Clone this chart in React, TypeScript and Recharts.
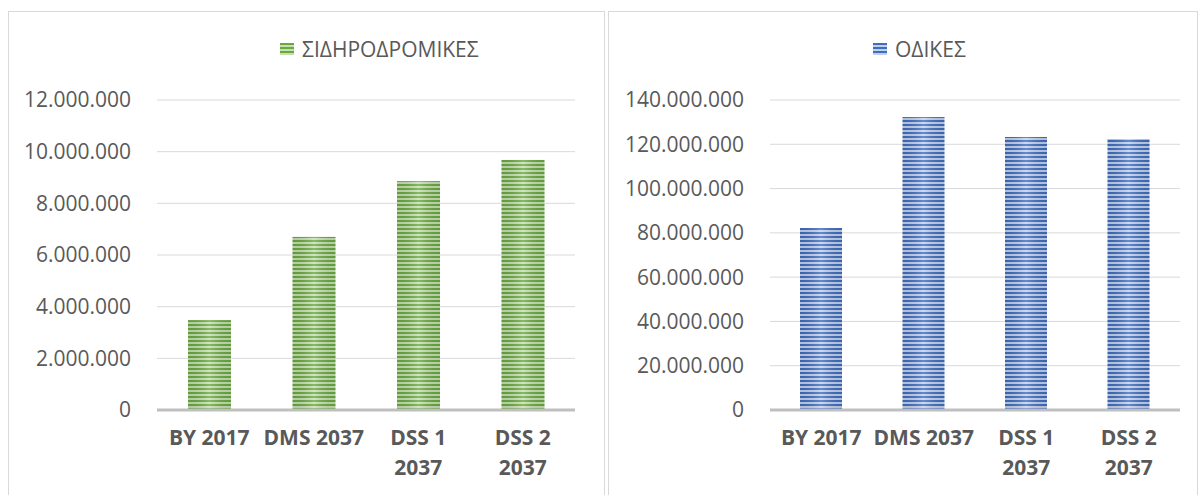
import { BarChart, Bar, XAxis, YAxis, CartesianGrid, Legend } from 'recharts';

const categories = ['BY 2017', 'DMS 2037', 'DSS 1 2037', 'DSS 2 2037'];
const railValues = [3480000, 6700000, 8860000, 9680000];
const roadValues = [82200000, 132300000, 123300000, 122400000];
const railTicks = [0, 2000000, 4000000, 6000000, 8000000, 10000000, 12000000];
const roadTicks = [0, 20000000, 40000000, 60000000, 80000000, 100000000, 120000000, 140000000];

const railData = categories.map((name, i) => ({ name, value: railValues[i] }));
const roadData = categories.map((name, i) => ({ name, value: roadValues[i] }));

const FONT = '"Open Sans", sans-serif';
const TEXT = '#595959';

const fmt = (v: number) => String(v).replace(/\B(?=(\d{3})+(?!\d))/g, '.');

function CatTick(props: any) {
    const { x, y, payload } = props;
    const label: string = payload.value;
    let lines = [label];
    if (label.length > 8) {
        const cut = label.lastIndexOf(' ');
        lines = [label.slice(0, cut), label.slice(cut + 1)];
    }
    return (
        <g transform={`translate(${x},${y})`}>
            {lines.map((l, i) => (
                <text key={i} x={0} y={i * 30} dy={27} textAnchor="middle" fill={TEXT}
                    fontSize={21} fontWeight={700} fontFamily={FONT}>{l}</text>
            ))}
        </g>
    );
}

function StripedBar(props: any) {
    const { x, y, width, height, pid } = props;
    if (!height || height <= 0) return null;
    return (
        <g>
            <rect x={x} y={y} width={width} height={height} fill={`url(#${pid})`} />
            <rect x={x} y={y} width={width} height={height} fill="url(#shine)" />
        </g>
    );
}

function Defs() {
    return (
        <defs>
            <pattern id="greenStripes" patternUnits="userSpaceOnUse" width={8} height={4}>
                <rect x={0} y={0} width={8} height={4} fill="#c4dfb0" />
                <rect x={0} y={0} width={8} height={2} fill="#6aa840" />
            </pattern>
            <pattern id="blueStripes" patternUnits="userSpaceOnUse" width={8} height={4}>
                <rect x={0} y={0} width={8} height={4} fill="#c0cfec" />
                <rect x={0} y={0} width={8} height={2} fill="#3f6dc0" />
            </pattern>
            <linearGradient id="shine" x1="0" y1="0" x2="1" y2="0">
                <stop offset="0%" stopColor="#000" stopOpacity={0.08} />
                <stop offset="50%" stopColor="#fff" stopOpacity={0.2} />
                <stop offset="100%" stopColor="#000" stopOpacity={0.08} />
            </linearGradient>
        </defs>
    );
}

function LegendItem({ label, pid, left }: { label: string; pid: string; left: number }) {
    return (
        <div style={{ position: 'absolute', left, top: 23, display: 'flex', alignItems: 'center', fontFamily: FONT, fontSize: 21, color: TEXT }}>
            <svg width={14} height={12} style={{ marginRight: 8 }}>
                <rect x={0} y={0} width={14} height={12} fill={`url(#${pid})`} />
            </svg>
            <span>{label}</span>
        </div>
    );
}

interface PanelProps {
    data: { name: string; value: number }[];
    ticks: number[];
    max: number;
    pid: string;
    label: string;
    width: number;
    left: number;
    yWidth: number;
    rightMargin: number;
    barSize: number;
    legendLeft: number;
}

function Panel({ data, ticks, max, pid, label, width, left, yWidth, rightMargin, barSize, legendLeft }: PanelProps) {
    return (
        <div style={{ position: 'absolute', left, top: 11, width, height: 500, border: '1px solid #d9d9d9', boxSizing: 'border-box', background: '#fff' }}>
            <BarChart width={width - 2} height={480} data={data}
                margin={{ top: 88, right: rightMargin, bottom: 2, left: 8 }}>
                <Defs />
                <CartesianGrid vertical={false} stroke="#d9d9d9" />
                <XAxis dataKey="name" tick={<CatTick />} tickLine={false} height={80}
                    axisLine={{ stroke: '#bfbfbf', strokeWidth: 3 }} interval={0} />
                <YAxis width={yWidth} domain={[0, max]} ticks={ticks} tickFormatter={fmt}
                    axisLine={false} tickLine={false} tickSize={0} tickMargin={26}
                    tick={{ fill: TEXT, fontSize: 21, fontFamily: FONT }} />
                <Legend content={() => null} />
                <Bar dataKey="value" barSize={barSize} isAnimationActive={false}
                    shape={(p: any) => <StripedBar {...p} pid={pid} />} />
            </BarChart>
            <LegendItem label={label} pid={pid} left={legendLeft} />
        </div>
    );
}

export default function App() {
    return (
        <div style={{ position: 'absolute', left: 0, top: 0, width: 1202, height: 495, overflow: 'hidden', background: '#fff' }}>
            <Panel data={railData} ticks={railTicks} max={12000000} pid="greenStripes" label="ΣΙΔΗΡΟΔΡΟΜΙΚΕΣ"
                width={597} left={8} yWidth={140} rightMargin={29} barSize={43} legendLeft={271} />
            <Panel data={roadData} ticks={roadTicks} max={140000000} pid="blueStripes" label="ΟΔΙΚΕΣ"
                width={590} left={608} yWidth={153} rightMargin={17} barSize={42} legendLeft={264} />
        </div>
    );
}
